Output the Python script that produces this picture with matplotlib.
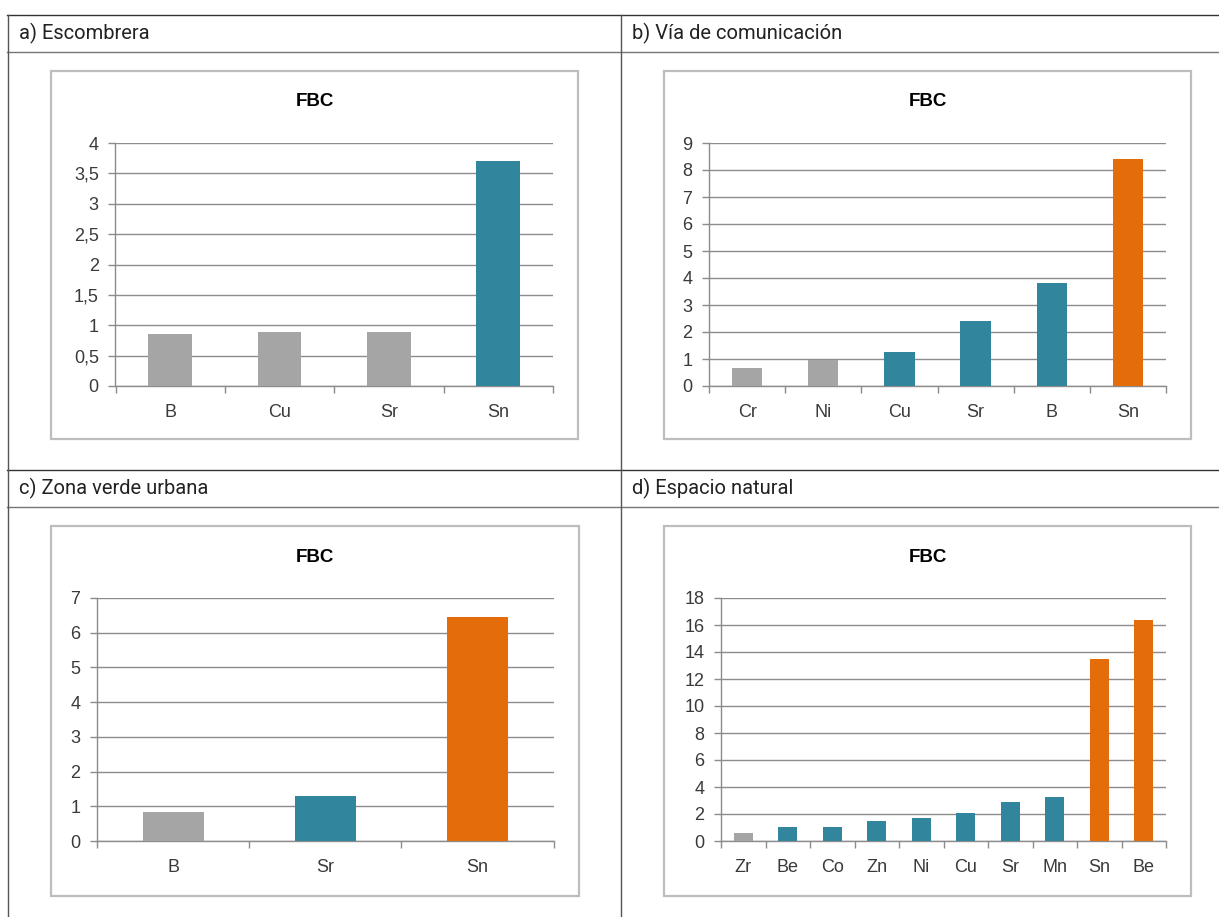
import matplotlib
matplotlib.use('Agg')
import matplotlib.pyplot as plt
from matplotlib.lines import Line2D
from matplotlib.patches import Rectangle
from matplotlib.ticker import FixedLocator

# FBC por elemento en cada zona
a_elem = ['B', 'Cu', 'Sr', 'Sn']
a_fbc = [0.85, 0.89, 0.89, 3.71]
a_grupo = [0, 0, 0, 1]

b_elem = ['Cr', 'Ni', 'Cu', 'Sr', 'B', 'Sn']
b_fbc = [0.67, 0.96, 1.27, 2.41, 3.83, 8.41]
b_grupo = [0, 0, 1, 1, 1, 2]

c_elem = ['B', 'Sr', 'Sn']
c_fbc = [0.83, 1.29, 6.44]
c_grupo = [0, 1, 2]

d_elem = ['Zr', 'Be', 'Co', 'Zn', 'Ni', 'Cu', 'Sr', 'Mn', 'Sn', 'Be']
d_fbc = [0.62, 1.01, 1.01, 1.50, 1.72, 2.10, 2.91, 3.28, 13.46, 16.40]
d_grupo = [0, 1, 1, 1, 1, 1, 1, 1, 2, 2]

a_yticks = [0, 0.5, 1, 1.5, 2, 2.5, 3, 3.5, 4]
b_yticks = list(range(0, 10))
c_yticks = list(range(0, 8))
d_yticks = list(range(0, 19, 2))

titulos = ['a) Escombrera', 'b) Vía de comunicación',
           'c) Zona verde urbana', 'd) Espacio natural']

colores = ['#A5A5A5', '#31859C', '#E46C0A']

W, H = 1219, 917
fig = plt.figure(figsize=(W / 100, H / 100), dpi=100)

def rect(x0, y0, x1, y1):
    return [x0 / W, 1 - y1 / H, (x1 - x0) / W, (y1 - y0) / H]

def linea(x0, y0, x1, y1, c='#555555', lw=1.0):
    fig.add_artist(Line2D([x0 / W, x1 / W], [1 - y0 / H, 1 - y1 / H],
                          color=c, lw=lw, transform=fig.transFigure))

# tabla
linea(7, 15, W, 15, c='#333333')
linea(7, 52, W, 52, c='#777777')
linea(7, 470, W, 470, c='#333333')
linea(7, 507, W, 507, c='#777777')
linea(7.5, 15, 7.5, H)
linea(621, 15, 621, H)

cab = [(19, 33), (632, 33), (19, 488), (632, 488)]
for t, (x, y) in zip(titulos, cab):
    fig.text(x / W, 1 - y / H, t, fontsize=14.5, family='Roboto',
             color='#222222', va='center', ha='left')

paneles = [
    (a_elem, a_fbc, a_grupo, a_yticks, 0.40, (51, 71, 578, 439), (115.5, 143, 553, 386)),
    (b_elem, b_fbc, b_grupo, b_yticks, 0.40, (664, 71, 1191, 439), (709, 143, 1166, 386)),
    (c_elem, c_fbc, c_grupo, c_yticks, 0.40, (51, 526, 579, 896), (97, 598, 553.5, 841)),
    (d_elem, d_fbc, d_grupo, d_yticks, 0.43, (664, 526, 1191, 896), (721, 598, 1166, 841)),
]

for elem, vals, grupo, yt, ancho, caja, area in paneles:
    bx0, by0, bx1, by1 = caja
    fig.add_artist(Rectangle((bx0 / W, 1 - by1 / H), (bx1 - bx0) / W, (by1 - by0) / H,
                             transform=fig.transFigure, fill=False,
                             edgecolor='#BDBDBD', lw=1.6))
    fig.text((bx0 + bx1) / 2 / W, 1 - (by0 + 31) / H, 'FBC', fontsize=13.5,
             fontweight='bold', family='Liberation Sans', ha='center', va='center',
             color='black')

    ax = fig.add_axes(rect(*area))
    n = len(elem)
    ax.bar(range(n), vals, width=ancho, color=[colores[g] for g in grupo], zorder=3)
    ax.set_xlim(-0.5, n - 0.5)
    ax.set_ylim(yt[0], yt[-1])
    ax.set_yticks(yt)
    ax.set_yticklabels([('%g' % v).replace('.', ',') for v in yt])
    ax.set_xticks(range(n))
    ax.set_xticklabels(elem)
    ax.xaxis.set_minor_locator(FixedLocator([i - 0.5 for i in range(n + 1)]))
    ax.grid(axis='y', color='#8C8C8C', lw=1.0, zorder=1)
    for s in ['top', 'right']:
        ax.spines[s].set_visible(False)
    for s in ['left', 'bottom']:
        ax.spines[s].set_color('#8C8C8C')
        ax.spines[s].set_linewidth(1.0)
    ax.tick_params(axis='y', length=5, width=1.0, color='#8C8C8C', pad=7,
                   labelsize=13, labelcolor='#3A3A3A')
    ax.tick_params(axis='x', which='major', length=0, pad=13,
                   labelsize=13, labelcolor='#3A3A3A')
    ax.tick_params(axis='x', which='minor', length=5, width=1.0, color='#8C8C8C')
    for lab in ax.get_xticklabels() + ax.get_yticklabels():
        lab.set_family('Liberation Sans')
    ax.set_facecolor('none')

fig.savefig('out.png', dpi=100, facecolor='white')
